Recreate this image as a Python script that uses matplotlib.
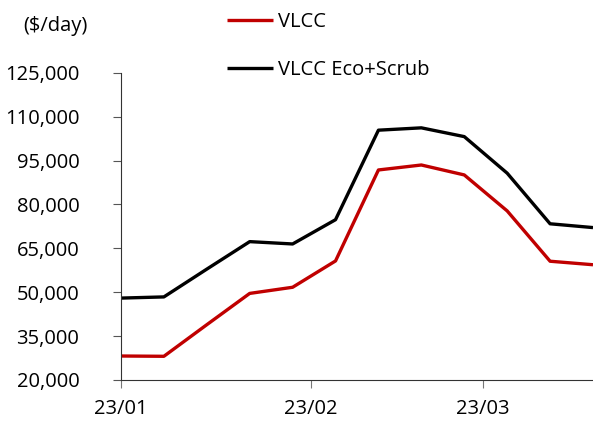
import matplotlib
matplotlib.use("Agg")
import matplotlib.pyplot as plt
import matplotlib.dates as mdates
import matplotlib.ticker as mticker
import numpy as np

plt.rcParams['font.family'] = ['Open Sans', 'DejaVu Sans']

dates = np.arange(np.datetime64('2023-01-01'), np.datetime64('2023-03-20'), np.timedelta64(7, 'D'))
vlcc = [28200, 28100, 38900, 49600, 51700, 60700, 91800, 93500, 90100, 77800, 60600, 59400]
vlcc_eco = [48000, 48400, 57900, 67300, 66500, 74800, 105400, 106200, 103200, 90700, 73400, 72100]
y_ticks = np.arange(20000, 125001, 15000)

fig = plt.figure(figsize=(5.93, 4.26), dpi=100)
ax = fig.add_axes([0.204, 0.108, 0.796, 0.721])

ax.plot(dates, vlcc, color='#C00000', lw=2.4, label='VLCC', solid_capstyle='butt')
ax.plot(dates, vlcc_eco, color='black', lw=2.4, label='VLCC Eco+Scrub', solid_capstyle='butt')

ax.set_ylim(20000, 125000)
ax.set_yticks(y_ticks)
ax.yaxis.set_major_formatter(mticker.StrMethodFormatter('{x:,.0f}'))
ax.set_xlim(dates[0], dates[-1])
ax.xaxis.set_major_locator(mdates.MonthLocator())
ax.xaxis.set_major_formatter(mdates.DateFormatter('%y/%m'))

for s in ['top', 'right']:
    ax.spines[s].set_visible(False)
for s in ['left', 'bottom']:
    ax.spines[s].set_color('#333333')
    ax.spines[s].set_linewidth(0.8)
ax.tick_params(axis='y', length=6, width=0.8, color='#555555', labelsize=14.5, pad=24)
ax.tick_params(axis='x', length=6, width=0.8, color='#777777', labelsize=14.5, pad=8)

fig.text(0.04, 0.94, '($/day)', fontsize=14.5, va='center', ha='left')

fig.legend(loc='upper left', bbox_to_anchor=(0.383, 0.972), frameon=False,
           fontsize=14.5, handlelength=2.3, handletextpad=0.25, labelspacing=1.4,
           borderpad=0, borderaxespad=0)

fig.savefig('out.png', dpi=100)
